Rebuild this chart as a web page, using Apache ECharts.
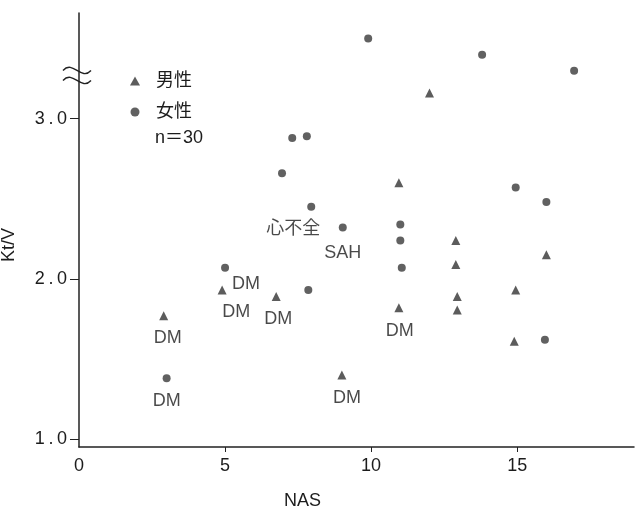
<!DOCTYPE html>
<html>
<head>
<meta charset="utf-8">
<script src="https://cdn.jsdelivr.net/npm/echarts@6/dist/echarts.min.js"></script>
<style>html,body{margin:0;padding:0;background:#fff}#main{width:635px;height:507px}</style>
</head>
<body>
<div id="main"></div>
<script>
// 男性 (▲)  NAS / Kt/V
var maleNAS = [2.9, 4.9, 6.75, 9, 10.95, 10.95, 12, 12.9, 12.9, 12.95, 12.95, 14.95, 14.9, 16];
var maleKtV = [1.77, 1.93, 1.89, 1.40, 2.60, 1.82, 3.16, 2.24, 2.09, 1.89, 1.805, 1.93, 1.61, 2.15];
var maleNote = ['DM', 'DM', 'DM', 'DM', '', 'DM', '', '', '', '', '', '', '', ''];

// 女性 (●)
var femaleNAS = [3, 5, 7.85, 6.95, 7.3, 7.8, 7.95, 9.03, 11, 11, 11.05, 9.9, 13.8, 16.95, 14.95, 16, 15.95];
var femaleKtV = [1.38, 2.07, 1.93, 2.66, 2.88, 2.89, 2.45, 2.32, 2.34, 2.24, 2.07, 3.50, 3.40, 3.30, 2.57, 2.48, 1.62];
var femaleNote = ['DM', 'DM', '', '', '', '', '心不全', 'SAH', '', '', '', '', '', '', '', '', ''];

var xTicks = [0, 5, 10, 15];
var yTicks = [1, 2, 3];

var FONT = 'Liberation Sans, Noto Sans CJK JP, sans-serif';
var INK = '#1c1c1c';

// where each note sits next to its point
var notePlace = {
    m0: {position: 'bottom', distance: 9, offset: [4, 0]},
    m1: {position: 'bottom', distance: 8, offset: [14, 0]},
    m2: {position: 'bottom', distance: 9, offset: [2, 0]},
    m3: {position: 'bottom', distance: 10, offset: [5, 0]},
    m5: {position: 'bottom', distance: 10, offset: [1, 0]},
    f0: {position: 'bottom', distance: 10},
    f1: {position: 'right', distance: 3, offset: [0, 16]},
    f6: {position: 'inside', offset: [-18, 22]},
    f7: {position: 'bottom', distance: 12}
};

function build(xs, ys, notes, key) {
    return xs.map(function (x, i) {
        var item = {value: [x, ys[i]]};
        if (notes[i]) {
            var p = notePlace[key + i] || {position: 'bottom'};
            item.label = {
                show: true,
                formatter: notes[i],
                position: p.position,
                distance: p.distance || 5,
                offset: p.offset || [0, 0],
                fontSize: 18,
                fontFamily: FONT,
                color: INK
            };
        }
        return item;
    });
}

var myChart = echarts.init(document.getElementById('main'));

myChart.setOption({
    backgroundColor: '#ffffff',
    animation: false,
    grid: {left: 79, right: 1, top: 13, bottom: 60, containLabel: false, outerBoundsMode: 'none'},
    title: {
        text: 'n＝30',
        left: 150,
        top: 124,
        textStyle: {fontSize: 18, fontWeight: 'normal', color: INK, fontFamily: FONT}
    },
    legend: {
        orient: 'vertical',
        left: 125,
        top: 66,
        itemWidth: 10,
        itemHeight: 9,
        itemGap: 11,
        textStyle: {fontSize: 18, lineHeight: 20, color: INK, fontFamily: FONT, padding: [0, 0, 0, 11]},
        data: [{name: '男性', icon: 'triangle'}, {name: '女性', icon: 'circle'}]
    },
    xAxis: {
        type: 'value',
        min: 0,
        max: 19,
        name: 'NAS',
        nameLocation: 'middle',
        nameGap: 45,
        nameTextStyle: {fontSize: 18, color: INK, fontFamily: FONT, padding: [0, 108, 0, 0]},
        axisLine: {lineStyle: {color: '#222', width: 1.5}},
        axisTick: {inside: false, length: 5, customValues: [5, 10, 15], lineStyle: {color: '#222'}},
        axisLabel: {customValues: xTicks, margin: 10, fontSize: 18, color: INK, fontFamily: FONT},
        splitLine: {show: false}
    },
    yAxis: {
        type: 'value',
        min: 0.95,
        max: 3.66,
        name: 'Kt/V',
        nameLocation: 'middle',
        nameGap: 61,
        nameRotate: 90,
        nameTextStyle: {fontSize: 18, color: INK, fontFamily: FONT, padding: [0, 30, 0, 0]},
        axisLine: {show: true, lineStyle: {color: '#222', width: 1.5}},
        axisTick: {show: true, length: 9, customValues: yTicks, lineStyle: {color: '#222'}},
        axisLabel: {
            customValues: yTicks,
            margin: 12,
            fontSize: 18,
            color: INK,
            fontFamily: FONT,
            formatter: function (v) { return v.toFixed(1).split('').join('\u2009'); }
        },
        splitLine: {show: false}
    },
    series: [
        {
            name: '男性',
            type: 'scatter',
            symbol: 'triangle',
            symbolSize: 9,
            itemStyle: {color: '#333'},
            data: build(maleNAS, maleKtV, maleNote, 'm')
        },
        {
            name: '女性',
            type: 'scatter',
            symbol: 'circle',
            symbolSize: 8,
            itemStyle: {color: '#3a3a3a'},
            data: build(femaleNAS, femaleKtV, femaleNote, 'f')
        }
    ]
});

// axis break mark (≈) on the Kt/V axis
var brk = myChart.convertToPixel({gridIndex: 0}, [0, 3.27]);
function wave(dy) {
    return {
        type: 'bezierCurve',
        shape: {x1: -14, y1: dy, cpx1: -4, cpy1: dy - 11, cpx2: 4, cpy2: dy + 11, x2: 14, y2: dy},
        style: {stroke: '#222', lineWidth: 1.4, fill: null}
    };
}
myChart.setOption({
    graphic: [{
        type: 'group',
        x: brk[0] - 2,
        y: brk[1],
        children: [wave(-5), wave(5)]
    }]
});
</script>
</body>
</html>
